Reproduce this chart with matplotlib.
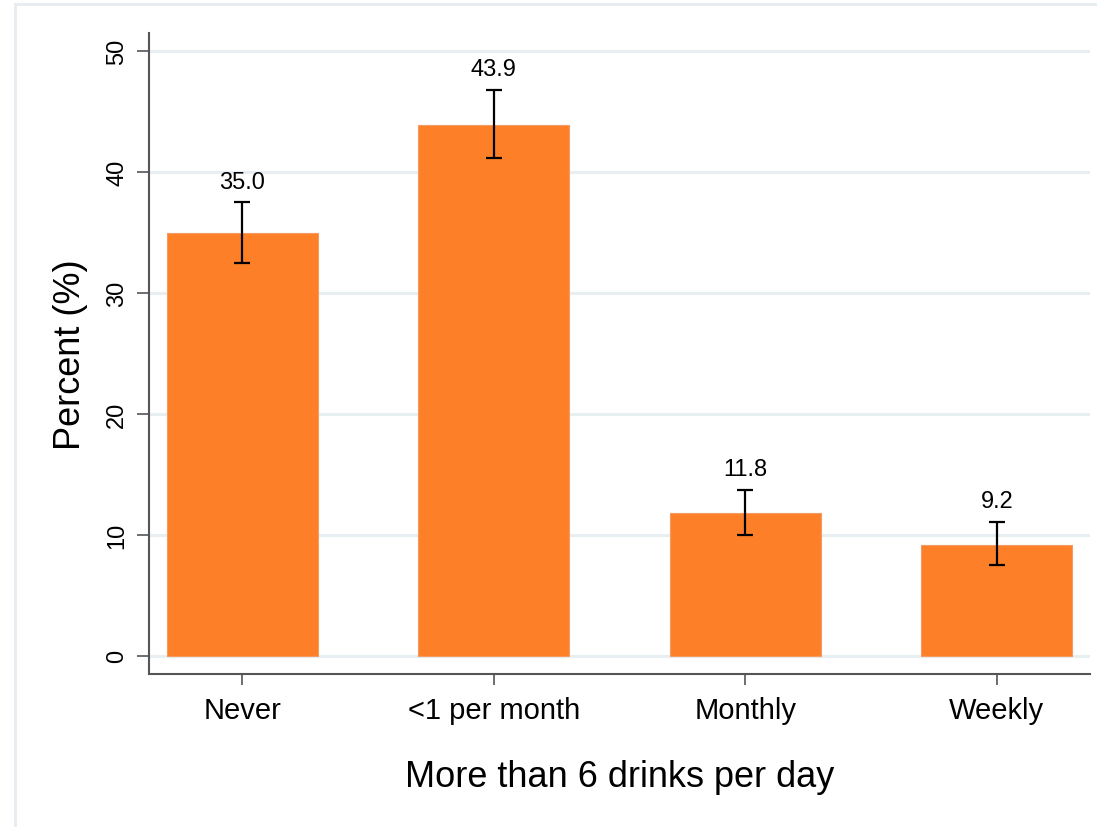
import matplotlib.pyplot as plt
from matplotlib.patches import Rectangle

plt.rcParams['font.family'] = ['Liberation Sans', 'DejaVu Sans']

categories = ['Never', '<1 per month', 'Monthly', 'Weekly']
percent = [35.0, 43.9, 11.8, 9.2]
ci_low = [32.5, 41.2, 10.0, 7.5]
ci_high = [37.5, 46.8, 13.7, 11.1]

bar_color = '#FD8028'
grid_color = '#E8EFF2'
spine_color = '#555555'

fig = plt.figure(figsize=(10.97, 8.28), dpi=100)
fig.patch.set_facecolor('white')

# light frame round the graph region
fig.patches.append(Rectangle((15 / 1097, -0.01), 1.1, 1 - 5 / 828 + 0.01,
                             transform=fig.transFigure, fill=False,
                             edgecolor='#E6ECEF', linewidth=2))

ax = fig.add_axes([149 / 1097, 153 / 828, (1090 - 149) / 1097, (675 - 34) / 828])

x = range(len(categories))
ax.bar(x, percent, width=0.6, color=bar_color, edgecolor='#F59A60',
       linewidth=0.8, zorder=3)

err_lo = [p - l for p, l in zip(percent, ci_low)]
err_hi = [h - p for p, h in zip(percent, ci_high)]
ax.errorbar(x, percent, yerr=[err_lo, err_hi], fmt='none', ecolor='black',
            elinewidth=1.6, capsize=6, capthick=1.6, zorder=4)

for xi, p, h in zip(x, percent, ci_high):
    ax.annotate(f'{p:.1f}', (xi, h), xytext=(0, 7), textcoords='offset points',
                ha='center', va='bottom', fontsize=17)

ax.set_xlim(-0.37, 3.37)
ax.set_ylim(-1.5, 51.5)
ax.set_yticks([0, 10, 20, 30, 40, 50])
ax.set_xticks(list(x))
ax.set_xticklabels(categories, fontsize=21)
for lab in ax.get_yticklabels():
    lab.set_rotation(90)
    lab.set_va('center')
    lab.set_fontsize(17)

ax.yaxis.grid(True, color=grid_color, linewidth=2.2, zorder=0)
ax.set_axisbelow(True)

ax.spines['top'].set_visible(False)
ax.spines['right'].set_visible(False)
for side in ['left', 'bottom']:
    ax.spines[side].set_color(spine_color)
    ax.spines[side].set_linewidth(1.5)
ax.tick_params(axis='y', length=9, width=1.2, color=spine_color, pad=6)
ax.tick_params(axis='x', length=8, width=1.2, color=spine_color, pad=8)

ax.set_ylabel('Percent (%)', fontsize=26, labelpad=13)
ax.set_xlabel('More than 6 drinks per day', fontsize=26, labelpad=25)

fig.savefig('out.png', dpi=100)
